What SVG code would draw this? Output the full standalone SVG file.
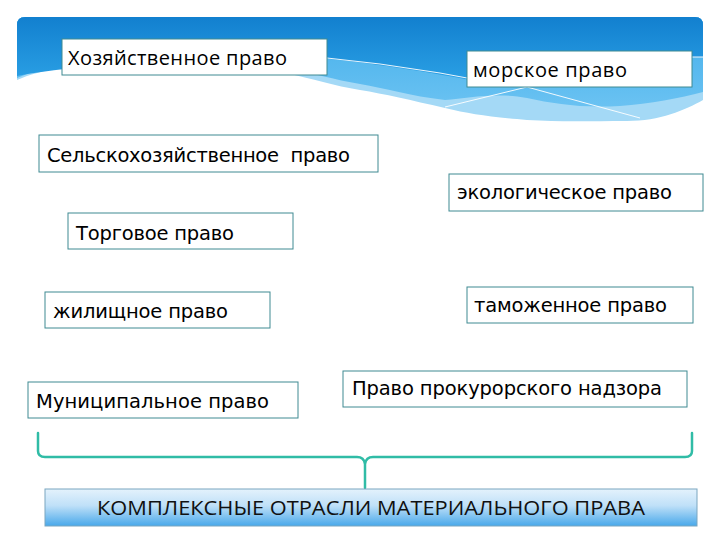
<svg xmlns="http://www.w3.org/2000/svg" width="720" height="540" viewBox="0 0 720 540">
<defs>
<linearGradient id="gTop" x1="0" y1="0" x2="0" y2="1">
<stop offset="0" stop-color="#1280cf"/>
<stop offset="1" stop-color="#2a9fe4"/>
</linearGradient>
<linearGradient id="gMid" x1="0" y1="0" x2="0" y2="1">
<stop offset="0" stop-color="#42aeea"/>
<stop offset="1" stop-color="#6ac2f2"/>
</linearGradient>
<linearGradient id="gCap" x1="0" y1="0" x2="0" y2="1">
<stop offset="0" stop-color="#e4f2fc"/>
<stop offset="0.45" stop-color="#bfe0f8"/>
<stop offset="1" stop-color="#48a8ea"/>
</linearGradient>
<style>
.box{fill:#ffffff;stroke:#3f8a92;stroke-width:1}
.t1{font-family:"DejaVu Sans",Verdana,sans-serif;font-size:19.5px;fill:#000}
.t2{font-family:"Open Sans","Noto Sans",sans-serif;font-size:20px;fill:#000}
.cap{font-family:"Open Sans","Noto Sans",sans-serif;font-size:20px;fill:#111}
.brace{fill:none;stroke:#30bca6;stroke-width:2.5;stroke-linecap:round;stroke-linejoin:round}
.wl{fill:none;stroke:#ffffff;stroke-width:1;opacity:0.9}
</style>
</defs>
<g id="banner">
<path d="M17,25 Q17,17 25,17 H695 Q703,17 703,25 V100 C685,110 660,121 627,121 C590,121 560,122 527,120 C490,117 470,114 445,108 C410,100 385,94 360,90 C335,86 310,78 290,74 C240,64 180,54 130,58 C80,62 40,70 17,80 Z" fill="#a4d9f6"/>
<path d="M17,25 Q17,17 25,17 H695 Q703,17 703,25 V92 C680,98 650,104 620,106 C580,108 555,104 527,98 C495,92 470,98 445,100 C410,96 385,88 360,84 C335,80 310,72 290,70 C240,62 180,52 130,56 C80,60 40,68 17,78 Z" fill="url(#gMid)"/>
<path d="M17,25 Q17,17 25,17 H695 Q703,17 703,25 V57 H692 C640,62 560,82 470,80 C440,74 380,64 330,59 C300,56 260,56 220,60 C160,62 80,64 17,76 Z" fill="url(#gTop)"/>
<polyline class="wl" points="327,58 380,64 440,73 467,78"/>
<polyline class="wl" points="445,107 527,87 640,118"/>
<line class="wl" x1="692" y1="57" x2="703" y2="57"/>
</g>
<g id="connectors">
<path class="brace" d="M38,433 V451 Q38,457 45,457 H357 Q364,457 365,464 V488 M365,464 Q366,457 373,457 H685 Q692,457 692,451 V433"/>
</g>
<g id="n1"><rect class="box" x="62" y="39" width="265" height="36"/><text class="t2" x="68" y="65" textLength="219">Хозяйственное право</text></g>
<g id="n2"><rect class="box" x="467" y="51" width="225" height="36"/><text class="t2" x="473" y="77" textLength="154">морское право</text></g>
<g id="n3"><rect class="box" x="39" y="135" width="339" height="37"/><text class="t1" x="47" y="162" textLength="303" xml:space="preserve">Сельскохозяйственное  право</text></g>
<g id="n4"><rect class="box" x="449" y="174" width="254" height="37"/><text class="t1" x="457" y="199" textLength="215">экологическое право</text></g>
<g id="n5"><rect class="box" x="68" y="213" width="225" height="36"/><text class="t1" x="76" y="240" textLength="158">Торговое право</text></g>
<g id="n6"><rect class="box" x="467" y="287" width="226" height="36"/><text class="t1" x="474" y="312" textLength="193">таможенное право</text></g>
<g id="n7"><rect class="box" x="45" y="292" width="225" height="36"/><text class="t1" x="53" y="318" textLength="175">жилищное право</text></g>
<g id="n8"><rect class="box" x="343" y="371" width="344" height="36"/><text class="t1" x="352" y="395" textLength="310">Право прокурорского надзора</text></g>
<g id="n9"><rect class="box" x="28" y="382" width="270" height="36"/><text class="t1" x="36" y="408" textLength="233">Муниципальное право</text></g>
<g id="n10"><rect x="45" y="489" width="652" height="37" fill="url(#gCap)" stroke="#7aa6c0" stroke-width="1"/><text class="cap" x="97" y="515" textLength="548" lengthAdjust="spacingAndGlyphs">КОМПЛЕКСНЫЕ ОТРАСЛИ МАТЕРИАЛЬНОГО ПРАВА</text></g>
</svg>
